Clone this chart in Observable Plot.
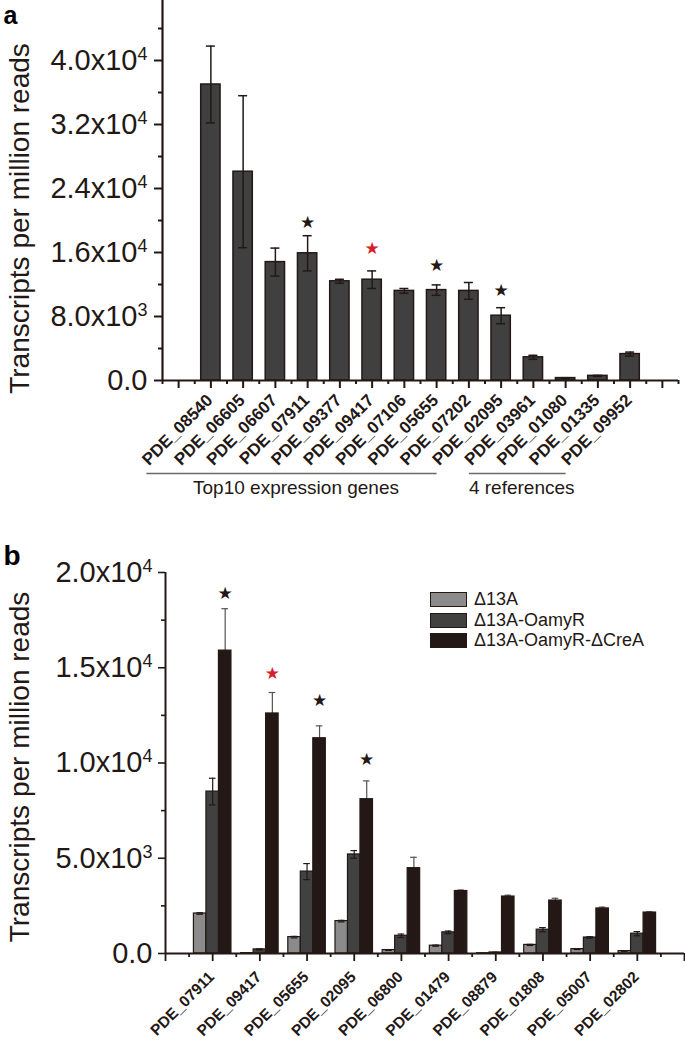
<!DOCTYPE html>
<html><head><meta charset="utf-8">
<script src="https://cdn.jsdelivr.net/npm/d3@7"></script>
<script src="https://cdn.jsdelivr.net/npm/@observablehq/plot@0.6"></script>
<style>
body{margin:0;background:#fff;}
#wrap{position:relative;width:685px;height:1042px;overflow:hidden;font-family:"Liberation Sans",Arial,sans-serif;color:#231815;background:#fff;}
#wrap svg{position:absolute;left:0;}
.legend{position:absolute;left:430px;top:589px;font-size:18px;}
.row{display:flex;align-items:center;height:20.7px;}
.sw{width:35px;height:13px;border:1px solid #231815;margin-right:7px;}
</style></head><body><div id="wrap"></div><script>
// ---------- Panel a data ----------
const genesA = ["PDE_08540","PDE_06605","PDE_06607","PDE_07911","PDE_09377","PDE_09417","PDE_07106","PDE_05655","PDE_07202","PDE_02095","PDE_03961","PDE_01080","PDE_01335","PDE_09952"];
const valuesA = [37000, 26100, 14800, 15900, 12400, 12600, 11200, 11300, 11200, 8100, 2900, 300, 580, 3300];
const errorsA = [4800, 9500, 1750, 2200, 250, 1100, 300, 650, 1050, 1000, 250, 50, 60, 250];
const starGenesA = ["PDE_07911","PDE_09417","PDE_05655","PDE_02095"];
const starValuesA = [19800, 16500, 14400, 11200];
const starColorsA = ["#231815","#d7202a","#231815","#231815"];
const groupLabelsA = ["Top10 expression genes","4 references"];
const groupFirstA = ["PDE_08540","PDE_03961"];
const groupLastA = ["PDE_02095","PDE_09952"];
const ticksA = [0, 8000, 16000, 24000, 32000, 40000];
const minorTicksA = [4000, 12000, 20000, 28000, 36000, 44000];

// ---------- Panel b data ----------
const genesB = ["PDE_07911","PDE_09417","PDE_05655","PDE_02095","PDE_06800","PDE_01479","PDE_08879","PDE_01808","PDE_05007","PDE_02802"];
const strainsB = ["Δ13A","Δ13A-OamyR","Δ13A-OamyR-ΔCreA"];
const d13A      = [2100, 20, 860, 1700, 180, 410, 15, 450, 230, 125];
const d13AErr   = [40, 0, 40, 40, 20, 30, 0, 30, 20, 10];
const oamyR     = [8500, 215, 4300, 5200, 930, 1110, 54, 1250, 840, 1040];
const oamyRErr  = [700, 30, 420, 200, 90, 70, 10, 110, 40, 110];
const creA      = [15900, 12600, 11300, 8100, 4480, 3280, 2990, 2780, 2365, 2150];
const creAErr   = [2200, 1100, 650, 960, 570, 50, 70, 120, 70, 40];
const colorsB = ["#8b8b8b", "#414141", "#231815"];
const starGenesB = ["PDE_07911","PDE_09417","PDE_05655","PDE_02095"];
const starValuesB = [18900, 14700, 13300, 10200];
const starColorsB = ["#231815","#d7202a","#231815","#231815"];
const ticksB = [0, 5000, 10000, 15000, 20000];
const minorTicksB = [2500, 7500, 12500, 17500];

const yLabel = "Transcripts per million reads";
const FONT = "'Liberation Sans', Arial, sans-serif";
const INK = "#231815";

function fmt(d) {
  if (d === 0) return "0.0";
  const e = Math.floor(Math.log10(d));
  return (d / 10 ** e).toFixed(1) + "x10^" + e;
}
function supify(svg) {
  svg.querySelectorAll("text").forEach(t => {
    if (t.children.length) return;
    const s = t.textContent;
    const k = s.indexOf("^");
    if (k < 0) return;
    t.textContent = s.slice(0, k);
    const ts = document.createElementNS("http://www.w3.org/2000/svg", "tspan");
    ts.setAttribute("dy", "-10");
    ts.setAttribute("font-size", "18");
    ts.textContent = s.slice(k + 1);
    t.appendChild(ts);
  });
}

// ---------- Panel a ----------
const nA = genesA.length;
const idxA = new Map(genesA.map((g, i) => [g, i]));
const dataA = genesA.map((g, i) => ({gene: g, i, v: valuesA[i], e: errorsA[i]}));
const starsA = starGenesA.map((g, j) => ({i: idxA.get(g), y: starValuesA[j], c: starColorsA[j]}));
const groupsA = groupLabelsA.map((l, j) => ({label: l, from: idxA.get(groupFirstA[j]), to: idxA.get(groupLastA[j])}));
const xDomA = [-1.5, nA + 0.5];
const halfA = 0.3, capA = 0.14;

const plotA = Plot.plot({
  width: 685, height: 505,
  marginLeft: 162, marginRight: 7, marginTop: 0, marginBottom: 125,
  style: {fontFamily: FONT, color: INK, background: "transparent", overflow: "visible"},
  x: {domain: xDomA},
  y: {domain: [0, 47500]},
  color: {type: "identity"},
  marks: [
    Plot.rect(dataA, {x1: d => d.i - halfA, x2: d => d.i + halfA, y1: 0, y2: "v", fill: "#404040", stroke: INK, strokeWidth: 1.5}),
    Plot.ruleX(dataA, {x: "i", y1: d => d.v - d.e, y2: d => d.v + d.e, stroke: INK, strokeWidth: 1.5}),
    Plot.ruleY(dataA, {y: d => d.v + d.e, x1: d => d.i - capA, x2: d => d.i + capA, stroke: INK, strokeWidth: 1.5}),
    Plot.ruleY(dataA, {y: d => d.v - d.e, x1: d => d.i - capA, x2: d => d.i + capA, stroke: INK, strokeWidth: 1.5}),
    Plot.text(starsA, {x: "i", y: "y", text: () => "★", fill: "c", fontSize: 17, fontFamily: "DejaVu Sans"}),
    Plot.axisY({ticks: ticksA, tickSize: 8, tickPadding: 7, tickFormat: fmt, fontSize: 29, strokeWidth: 2, label: null}),
    Plot.axisY({ticks: minorTicksA, tickSize: 4, tickFormat: () => "", strokeWidth: 2, label: null}),
    Plot.axisX({ticks: d3.range(-1, nA + 1), tickSize: 8, tickFormat: () => "", strokeWidth: 2, label: null}),
    Plot.axisX({ticks: d3.range(-1.5, nA + 1, 1), tickSize: 4, tickFormat: () => "", strokeWidth: 2, label: null}),
    Plot.ruleY([0], {stroke: INK, strokeWidth: 2.2}),
    Plot.ruleX([xDomA[0]], {stroke: INK, strokeWidth: 2.2}),
    Plot.text(dataA, {x: "i", text: "gene", frameAnchor: "bottom", rotate: -45, textAnchor: "end", lineAnchor: "middle", dy: 17, dx: -1, fontSize: 17, fontWeight: "bold"}),
    Plot.ruleY(groupsA, {y: () => 0, x1: "from", x2: "to", dx: -64, dy: 93, stroke: "#6a6a6a", strokeWidth: 1.5}),
    Plot.text(groupsA, {x: d => (d.from + d.to) / 2, text: "label", frameAnchor: "bottom", lineAnchor: "middle", dx: -60, dy: 107, fontSize: 19}),
    Plot.text([yLabel], {frameAnchor: "left", rotate: -90, textAnchor: "middle", lineAnchor: "middle", dx: -142, dy: 28, fontSize: 28}),
    Plot.text(["a"], {frameAnchor: "top-left", textAnchor: "start", lineAnchor: "middle", dx: -159, dy: 15, fontSize: 25, fontWeight: "bold", fill: "#000"})
  ]
});
supify(plotA);
plotA.style.top = "0px";

// ---------- Panel b ----------
const nB = genesB.length;
const idxB = new Map(genesB.map((g, i) => [g, i]));
const seriesB = [[d13A, d13AErr], [oamyR, oamyRErr], [creA, creAErr]];
const dataB = [];
seriesB.forEach(([vals, errs], k) => genesB.forEach((g, i) => dataB.push({gene: g, i, k, v: vals[i], e: errs[i], fill: colorsB[k]})));
const bw = 0.265, capB = 0.07;
const cx = d => d.i + (d.k - 1) * bw;
const lastK = strainsB.length - 1;
const starsB = starGenesB.map((g, j) => ({i: idxB.get(g), k: lastK, y: starValuesB[j], c: starColorsB[j]}));
const xDomB = [-1, nB];

const plotB = Plot.plot({
  width: 685, height: 537,
  marginLeft: 165, marginRight: 1, marginTop: 67, marginBottom: 89,
  style: {fontFamily: FONT, color: INK, background: "transparent", overflow: "visible"},
  x: {domain: xDomB},
  y: {domain: [0, 20000]},
  color: {type: "identity"},
  marks: [
    Plot.ruleX(dataB.filter(d => d.k === lastK), {x: cx, y1: d => d.v - d.e, y2: d => d.v + d.e, stroke: "#555", strokeWidth: 1.2}),
    Plot.ruleY(dataB.filter(d => d.k === lastK), {y: d => d.v + d.e, x1: d => cx(d) - capB, x2: d => cx(d) + capB, stroke: "#555", strokeWidth: 1.2}),
    Plot.rect(dataB, {x1: d => cx(d) - bw / 2, x2: d => cx(d) + bw / 2, y1: 0, y2: "v", fill: "fill", stroke: INK, strokeWidth: 1.2}),
    Plot.ruleX(dataB.filter(d => d.k < lastK && d.e > 0), {x: cx, y1: d => d.v - d.e, y2: d => d.v + d.e, stroke: INK, strokeWidth: 1.2}),
    Plot.ruleY(dataB.filter(d => d.k < lastK && d.e > 0), {y: d => d.v + d.e, x1: d => cx(d) - capB, x2: d => cx(d) + capB, stroke: INK, strokeWidth: 1.2}),
    Plot.ruleY(dataB.filter(d => d.k < lastK && d.e > 0), {y: d => d.v - d.e, x1: d => cx(d) - capB, x2: d => cx(d) + capB, stroke: INK, strokeWidth: 1.2}),
    Plot.text(starsB, {x: cx, y: "y", text: () => "★", fill: "c", fontSize: 17, fontFamily: "DejaVu Sans"}),
    Plot.axisY({ticks: ticksB, tickSize: 7, tickPadding: 6, tickFormat: fmt, fontSize: 29, strokeWidth: 1.6, label: null}),
    Plot.axisY({ticks: minorTicksB, tickSize: 4, tickFormat: () => "", strokeWidth: 1.6, label: null}),
    Plot.axisX({ticks: d3.range(-1, nB + 1), tickSize: 8, tickFormat: () => "", strokeWidth: 1.8, label: null}),
    Plot.axisX({ticks: d3.range(-0.5, nB, 1), tickSize: 4, tickFormat: () => "", strokeWidth: 1.8, label: null}),
    Plot.ruleY([0], {stroke: INK, strokeWidth: 2}),
    Plot.ruleX([xDomB[0]], {stroke: INK, strokeWidth: 2}),
    Plot.text(genesB, {x: (d, i) => i, frameAnchor: "bottom", rotate: -45, textAnchor: "end", lineAnchor: "middle", dy: 21, dx: -1, fontSize: 15.5, fontWeight: "bold"}),
    Plot.text([yLabel], {frameAnchor: "left", rotate: -90, textAnchor: "middle", lineAnchor: "middle", dx: -145, dy: 4, fontSize: 28}),
    Plot.text(["b"], {frameAnchor: "top-left", textAnchor: "start", lineAnchor: "middle", dx: -162, dy: -16, fontSize: 28, fontWeight: "bold", fill: "#000"})
  ]
});
supify(plotB);
plotB.style.top = "505px";

const wrap = document.getElementById("wrap");
wrap.appendChild(plotA);
wrap.appendChild(plotB);

// legend for panel b
const leg = document.createElement("div");
leg.className = "legend";
strainsB.forEach((s, k) => {
  const row = document.createElement("div");
  row.className = "row";
  const sw = document.createElement("span");
  sw.className = "sw";
  sw.style.background = colorsB[k];
  const tx = document.createElement("span");
  tx.textContent = s;
  row.appendChild(sw); row.appendChild(tx);
  leg.appendChild(row);
});
wrap.appendChild(leg);
</script></body></html>
